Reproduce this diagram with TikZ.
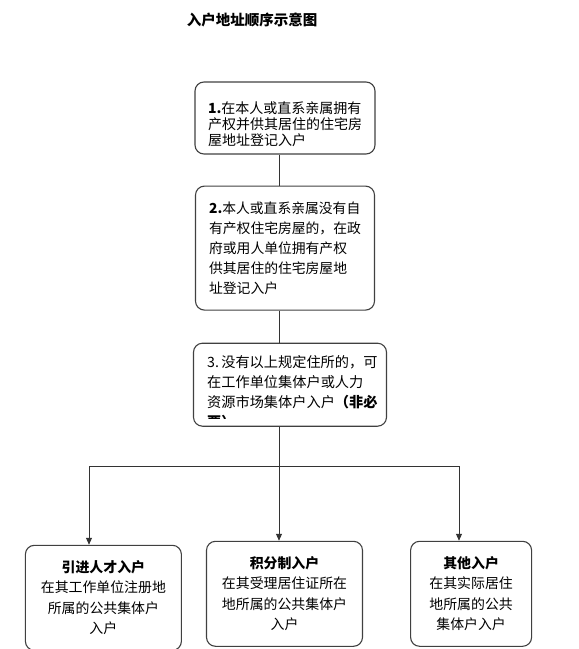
\documentclass[tikz,border=0pt]{standalone}
\usepackage{fontspec}
\setmainfont{Noto Sans CJK SC}
\usetikzlibrary{arrows.meta, positioning}

\begin{document}
\begin{tikzpicture}[
    x=1pt, y=-1pt,
    stage/.style={draw=black!75, line width=1.1pt, rounded corners=9pt, align=left, inner sep=0pt},
    branch/.style={draw=black!75, line width=1.1pt, rounded corners=9pt, align=center, inner sep=0pt,
        minimum width=156pt, minimum height=105pt, font=\fontsize{13.9}{20.5}\selectfont},
    link/.style={draw=black!80, line width=0.9pt},
    arrow/.style={link, -{Triangle[length=7pt,width=6pt]}},
]
    \useasboundingbox (0,0) rectangle (579,649);
    \node[font=\bfseries\fontsize{14.5}{16}\selectfont] (title) at (252,20) {入户地址顺序示意图};

    \node[stage, minimum width=180pt, minimum height=72pt, font=\fontsize{14}{16}\selectfont] (owned) at (285,118) {
        \rule{0pt}{24pt}\textbf{1.}在本人或直系亲属拥有\\产权并供其居住的住宅房\\屋地址登记入户
    };
    \node[stage, minimum width=179pt, minimum height=124pt, below=31pt of owned, font=\fontsize{13.8}{20}\selectfont] (employer) {
        \textbf{2.}本人或直系亲属没有自\\有产权住宅房屋的，在政\\府或用人单位拥有产权\\供其居住的住宅房屋地\\址登记入户
    };
    \node[stage, minimum width=193pt, minimum height=83pt, below=32pt of employer, xshift=5pt] (collective) {};
    \begin{scope}
        \clip (collective.north west) rectangle ([yshift=8pt]collective.south east);
        \node[anchor=north west, inner sep=0pt, align=left, font=\fontsize{14.2}{20}\selectfont] (collectivetext)
            at ([shift={(14pt,-13pt)}]collective.north west) {
            3.\,没有以上规定住所的，可\\在工作单位集体户或人力\\资源市场集体户入户\textbf{（非必}\\\textbf{要）}
        };
    \end{scope}

    % Three ways to register
    \node[branch, below=114pt of collective, xshift=-5.5pt] (points) {
        \textbf{积分制入户}\\在其受理居住证所在\\地所属的公共集体户\\入户
    };
    \node[branch, left=24pt of points, yshift=-4pt] (talent) {
        \textbf{引进人才入户}\\在其工作单位注册地\\所属的公共集体户\\入户
    };
    \node[branch, minimum width=121pt, right=47pt of points] (other) {
        \textbf{其他入户}\\在其实际居住\\地所属的公共\\集体户入户
    };

    % Connectors
    \coordinate (spine) at (279,0);
    \coordinate (forkL) at (89,466);
    \coordinate (forkR) at (459,466);
    \draw[link] (owned.south -| spine) -- (employer.north -| spine);
    \draw[link] (employer.south -| spine) -- (collective.north -| spine);
    \draw[arrow] (collective.south -| spine) -- (points.north -| spine);
    \draw[link] (forkL) -- (forkR);
    \draw[arrow] (forkL) -- (talent.north -| forkL);
    \draw[arrow] (forkR) -- (other.north -| forkR);
\end{tikzpicture}
\end{document}
